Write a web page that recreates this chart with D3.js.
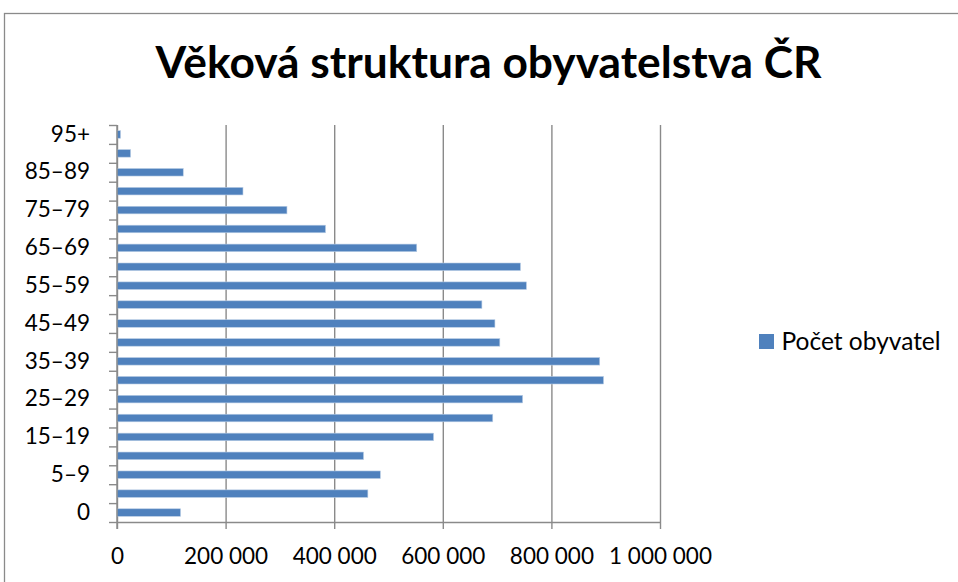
<!DOCTYPE html>
<html><head><meta charset="utf-8">
<script src="https://cdn.jsdelivr.net/npm/d3@7"></script>
<style>
html,body{margin:0;padding:0;background:#fff;}
svg{display:block;}
text{font-family:Lato, "Noto Sans", sans-serif;fill:#000;}
</style></head>
<body>
<svg id="c" width="958" height="582"></svg>
<script>
const categories = ["0","1–4","5–9","10–14","15–19","20–24","25–29","30–34","35–39","40–44","45–49","50–54","55–59","60–64","65–69","70–74","75–79","80–84","85–89","90–94","95+"];
const values = [117000,462000,485000,454000,583000,692000,747000,896000,889000,705000,696000,672000,754000,743000,552000,384000,313000,232000,122000,25000,6500];
const xTicks = [0,200000,400000,600000,800000,1000000];
const title = "Věková struktura obyvatelstva ČR";
const seriesName = "Počet obyvatel";

const svg = d3.select("#c");
const W = 958, H = 582;
const x0 = 117, x1 = 660, y0 = 522, y1 = 125;

// border
svg.append("rect").attr("x",4.5).attr("y",13.5).attr("width",W+10).attr("height",H)
  .attr("fill","none").attr("stroke","#8a8a8a").attr("stroke-width",1.3);

const x = d3.scaleLinear().domain([0,1000000]).range([x0,x1]);
const yBand = d3.scaleBand().domain(categories).range([y0,y1]).paddingInner(0.6).paddingOuter(0.3);
const yLabel = d3.scaleBand().domain(categories).range([y0,y1]);
const yLin = d3.scaleLinear().domain([0,categories.length]).range([y0,y1]);

const loc = d3.formatLocale({thousands:"\u00a0", grouping:[3], decimal:",", currency:["",""]});
const fmt = loc.format(",");

// gridlines
svg.append("g").attr("transform",`translate(0,${y0})`)
  .call(d3.axisBottom(x).tickValues(xTicks).tickSize(-(y0-y1)).tickFormat(""))
  .call(g=>g.select(".domain").remove())
  .call(g=>g.selectAll("line").attr("stroke","#8a8a8a").attr("stroke-width",1.4));

// bars
svg.append("g").selectAll("rect").data(values).join("rect")
  .attr("x",x(0))
  .attr("y",(d,i)=>yBand(categories[i]))
  .attr("height",yBand.bandwidth())
  .attr("width",d=>x(d)-x(0))
  .attr("fill","#4f81bd")
  .attr("stroke","#b9cde5").attr("stroke-width",0.6);

// x axis
const xa = svg.append("g").attr("transform",`translate(0,${y0})`)
  .call(d3.axisBottom(x).tickValues(xTicks).tickSize(7).tickSizeOuter(0).tickPadding(19).tickFormat(fmt));
xa.select(".domain").attr("stroke","#8a8a8a").attr("stroke-width",1.4);
xa.selectAll("line").attr("stroke","#8a8a8a").attr("stroke-width",1.4);
xa.selectAll("text").attr("font-size",22.5).attr("font-family","Lato");

// y axis ticks (between categories)
const ya = svg.append("g").attr("transform",`translate(${x0},0)`)
  .call(d3.axisLeft(yLin).tickValues(d3.range(categories.length+1)).tickSize(8).tickSizeOuter(0).tickFormat(""));
ya.select(".domain").attr("stroke","#8a8a8a").attr("stroke-width",1.4).attr("d",`M0,${y1}V${y0+7}`);
ya.selectAll("line").attr("stroke","#8a8a8a").attr("stroke-width",1.4);

// y labels
const yl = svg.append("g").attr("transform",`translate(${x0},0)`)
  .call(d3.axisLeft(yLabel).tickSize(0).tickPadding(27).tickFormat((d,i)=> i%2===0 ? d : ""));
yl.select(".domain").remove();
yl.selectAll("text").attr("font-size",22.5).attr("font-family","Lato");

// title
svg.append("text").attr("x",488.5).attr("y",78).attr("text-anchor","middle")
  .attr("font-size",44.3).attr("font-weight","bold").text(title);

// legend
const lg = svg.append("g").attr("transform","translate(759,334)");
lg.append("rect").attr("width",15).attr("height",15).attr("fill","#4f81bd");
lg.append("text").attr("x",22.5).attr("y",7.5).attr("dy","0.35em").attr("font-size",24.5).text(seriesName);
</script>
</body></html>
